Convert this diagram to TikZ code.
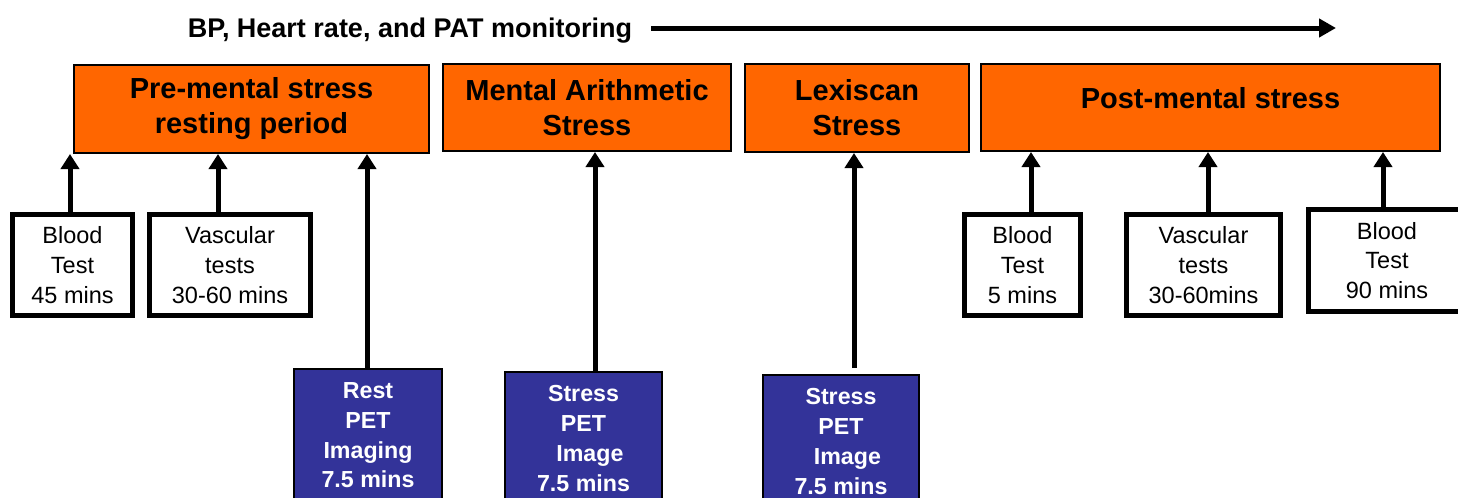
\documentclass[tikz,border=0pt]{standalone}
\usepackage{fontspec}
\setmainfont{Liberation Sans}
\usetikzlibrary{arrows.meta}
\definecolor{phaseorange}{HTML}{FF6600}
\definecolor{petblue}{HTML}{333399}
\tikzset{
    phase/.style={draw=black, line width=1pt, fill=phaseorange, align=center,
        font=\fontsize{14.5}{17.5}\selectfont\bfseries},
    testbox/.style={draw=black, line width=2.5pt, fill=white, align=center,
        minimum height=50.5pt, font=\fontsize{11.75}{14.9}\selectfont},
    petbox/.style={draw=black, line width=0.75pt, fill=petblue, text=white, align=center,
        anchor=north, inner ysep=7pt, font=\fontsize{11.6}{14.85}\selectfont\bfseries},
    up/.style={line width=2.5pt, -{Triangle[width=9pt,length=7.5pt]}}
}
\begin{document}
\begin{tikzpicture}[x=0.5pt,y=-0.5pt]
    \useasboundingbox (0,0) rectangle (1458,498);
    \clip (0,0) rectangle (1458,498);
    \node[font=\fontsize{13.5}{16}\selectfont\bfseries, text depth=0pt, inner xsep=9.5pt] (monitor) at (410,28) {BP, Heart rate, and PAT monitoring};
    \coordinate (monend) at (1336,28);
    \draw[line width=2.5pt, -{Triangle[width=9pt,length=8.5pt]}] (monitor) -- (monend);
    \node[phase, minimum width=177.5pt, minimum height=44pt] (pre) at (251.5,109) {Pre-mental stress\\resting period};
    \node[phase, minimum width=144pt, minimum height=43.5pt] (arith) at (587,107.5) {Mental Arithmetic\\Stress};
    \node[phase, minimum width=112pt, minimum height=44pt] (lexi) at (857,108) {Lexiscan\\Stress};
    \node[phase, minimum width=229.5pt, minimum height=43.5pt, text height=10pt, text depth=9pt] (post) at (1210.5,107.5) {Post-mental stress};
    \node[testbox, minimum width=60pt] (blood1) at (72.5,265) {Blood\\Test\\45 mins};
    \node[testbox, minimum width=80.5pt] (vasc1) at (230,265) {Vascular\\tests\\30-60 mins};
    \node[testbox, minimum width=58pt] (blood2) at (1022.5,265) {Blood\\Test\\5 mins};
    \node[testbox, minimum width=77pt] (vasc2) at (1203.5,265) {Vascular\\tests\\30-60mins};
    \node[testbox, minimum width=78.5pt, minimum height=51pt] (blood3) at (1387,260.5) {Blood\\Test\\90 mins};
    \node[petbox, minimum width=74pt] (rest) at (368,368) {Rest\\PET\\Imaging\\7.5 mins};
    \node[petbox, minimum width=78.5pt] (stress1) at (583.5,371) {Stress\\PET\\\hspace*{0.55em}Image\\7.5 mins};
    \node[petbox, minimum width=78pt] (stress2) at (841,374) {Stress\\PET\\\hspace*{0.55em}Image\\7.5 mins};
    \foreach \src/\dx/\dst in {blood1/-1.25/pre, vasc1/-6/pre, rest/-0.5/pre, stress1/5.75/arith,
        blood2/4.25/post, vasc2/2.25/post, blood3/-2/post}
        \draw[up] ([xshift=\dx pt]\src.north) -- ([xshift=\dx pt]\src.north |- \dst.south);
    \draw[up] ([xshift=6.5pt,yshift=3pt]stress2.north) -- ([xshift=6.5pt]stress2.north |- lexi.south);
\end{tikzpicture}
\end{document}
